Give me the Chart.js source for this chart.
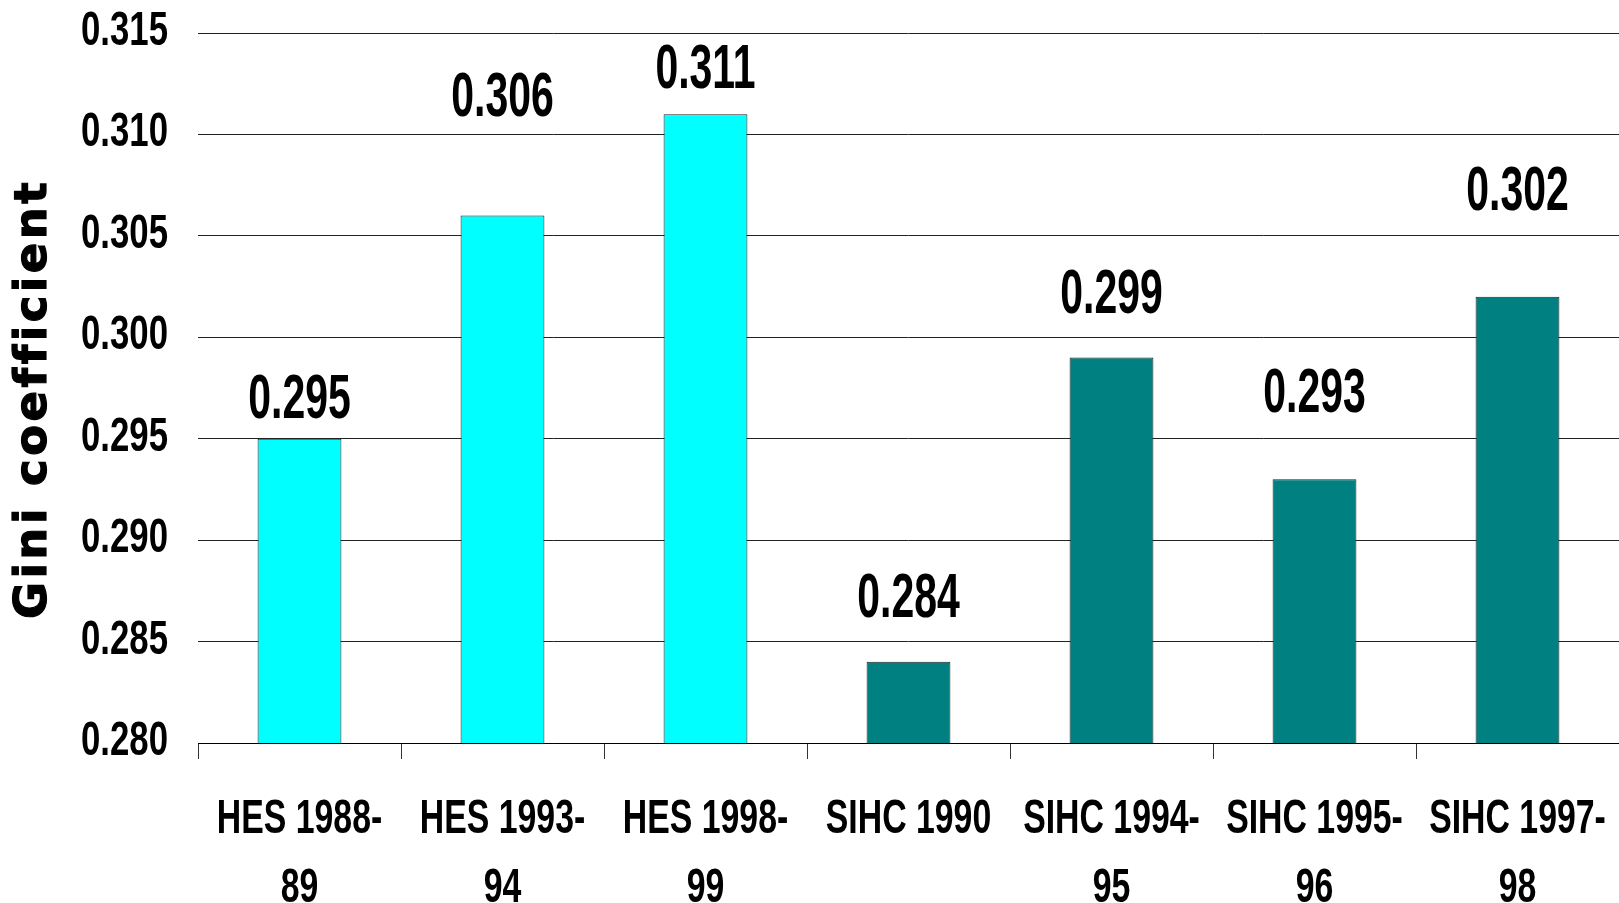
<!DOCTYPE html>
<html>
<head>
<meta charset="utf-8">
<title>Gini coefficient</title>
<script src="https://cdn.jsdelivr.net/npm/chart.js@4.4.1/dist/chart.umd.min.js"></script>
<style>
  html, body { margin: 0; padding: 0; background: #fff; }
  #mainChart { display: block; }
</style>
</head>
<body>
<canvas id="mainChart" width="1619" height="903"></canvas>
<script>
// survey labels (two lines each, like the original)
var surveys = [
    ['HES 1988-', '89'],
    ['HES 1993-', '94'],
    ['HES 1998-', '99'],
    ['SIHC 1990'],
    ['SIHC 1994-', '95'],
    ['SIHC 1995-', '96'],
    ['SIHC 1997-', '98']
];
var gini = [0.295, 0.306, 0.311, 0.284, 0.299, 0.293, 0.302];
var source = ['HES', 'HES', 'HES', 'SIHC', 'SIHC', 'SIHC', 'SIHC'];

// y axis range and step
var yMin = 0.280;
var yMax = 0.315;
var yStep = 0.005;

// how far each value label's middle sits above its bar (px), as placed in the original
var labelLift = [43, 122, 48, 67, 67, 89, 109];

// Liberation Sans squeezed sideways stands in for Arial Narrow Bold
var sans = '"Liberation Sans", Arial, sans-serif';

function drawSqueezed(ctx, text, x, y, align, sx) {
    ctx.save();
    ctx.translate(x, y);
    ctx.scale(sx, 1);
    ctx.textAlign = align;
    ctx.fillText(text, 0, 0);
    ctx.restore();
}

/**
 * Tick labels for both axes, drawn at the positions the scales give.
 */
var tickText = {
    id: 'tickText',
    afterDraw: function (chart) {
        var ctx = chart.ctx;
        var xs = chart.scales.x;
        var ys = chart.scales.y;
        ctx.save();
        ctx.fillStyle = '#000';
        ctx.textBaseline = 'alphabetic';
        ctx.font = 'bold 49px ' + sans;
        ys.ticks.forEach(function (t, i) {
            var py = ys.getPixelForTick(i);
            drawSqueezed(ctx, t.value.toFixed(3), ys.right - 30, py + 12, 'right', 0.71);
        });
        xs.ticks.forEach(function (t, i) {
            var px = xs.getPixelForTick(i);
            [].concat(surveys[i]).forEach(function (line, j) {
                drawSqueezed(ctx, line, px, xs.top + 90 + 69 * j, 'center', 0.69);
            });
        });
        ctx.restore();
    }
};

/**
 * Value labels above the bars.
 */
var valueLabels = {
    id: 'valueLabels',
    afterDatasetsDraw: function (chart) {
        var ctx = chart.ctx;
        var meta = chart.getDatasetMeta(0);
        ctx.save();
        ctx.fillStyle = '#000';
        ctx.font = 'bold 63px ' + sans;
        ctx.textBaseline = 'alphabetic';
        meta.data.forEach(function (bar, i) {
            drawSqueezed(ctx, gini[i].toFixed(3), bar.x, bar.y - labelLift[i] + 22, 'center', 0.65);
        });
        ctx.restore();
    }
};

/**
 * Rotated axis title, heavy and a little spaced out.
 */
var axisTitle = {
    id: 'axisTitle',
    afterDraw: function (chart) {
        var ctx = chart.ctx;
        ctx.save();
        ctx.translate(34, 619);
        ctx.rotate(-Math.PI / 2);
        ctx.font = 'bold 45px "DejaVu Sans", Verdana, sans-serif';
        ctx.letterSpacing = '3.5px';
        ctx.fillStyle = '#000';
        ctx.strokeStyle = '#000';
        ctx.lineWidth = 1.2;
        ctx.textAlign = 'left';
        ctx.textBaseline = 'middle';
        ctx.fillText('Gini coefficient', 0, 0);
        ctx.strokeText('Gini coefficient', 0, 0);
        ctx.restore();
    }
};

function standard_graph() {
    var ctx = document.getElementById('mainChart').getContext('2d');

    var chart = new Chart(ctx, {
        type: 'bar',
        data: {
            labels: surveys,
            datasets: [{
                label: 'Gini coefficient',
                data: gini,
                backgroundColor: source.map(function (s) { return s === 'HES' ? '#00FFFF' : '#008080'; }),
                borderColor: '#222',
                borderWidth: 1,
                borderSkipped: 'bottom',
                categoryPercentage: 1.0,
                barPercentage: 0.413
            }]
        },
        options: {
            responsive: false,
            animation: false,
            devicePixelRatio: 1,
            // the plot runs a few pixels past the right edge in the original
            layout: { padding: { top: 33, left: 0, right: -4, bottom: 0 } },
            plugins: {
                legend: { display: false },
                tooltip: { enabled: false }
            },
            scales: {
                x: {
                    grid: {
                        offset: true,
                        drawOnChartArea: false,
                        drawTicks: true,
                        tickLength: 16,
                        color: '#333'
                    },
                    border: { display: true, color: '#000', width: 1 },
                    ticks: { display: false, autoSkip: false },
                    afterFit: function (scale) {
                        scale.height = 160;
                        scale.paddingLeft = 0;
                        scale.paddingRight = 0;
                    }
                },
                y: {
                    min: yMin,
                    max: yMax,
                    grid: {
                        drawTicks: false,
                        color: '#222',
                        lineWidth: 1
                    },
                    border: { display: false },
                    ticks: { display: false, stepSize: yStep },
                    afterFit: function (scale) {
                        scale.width = 198;
                        scale.paddingTop = 0;
                        scale.paddingBottom = 0;
                    }
                }
            }
        },
        plugins: [valueLabels, tickText, axisTitle]
    });
}

standard_graph();
</script>
</body>
</html>
